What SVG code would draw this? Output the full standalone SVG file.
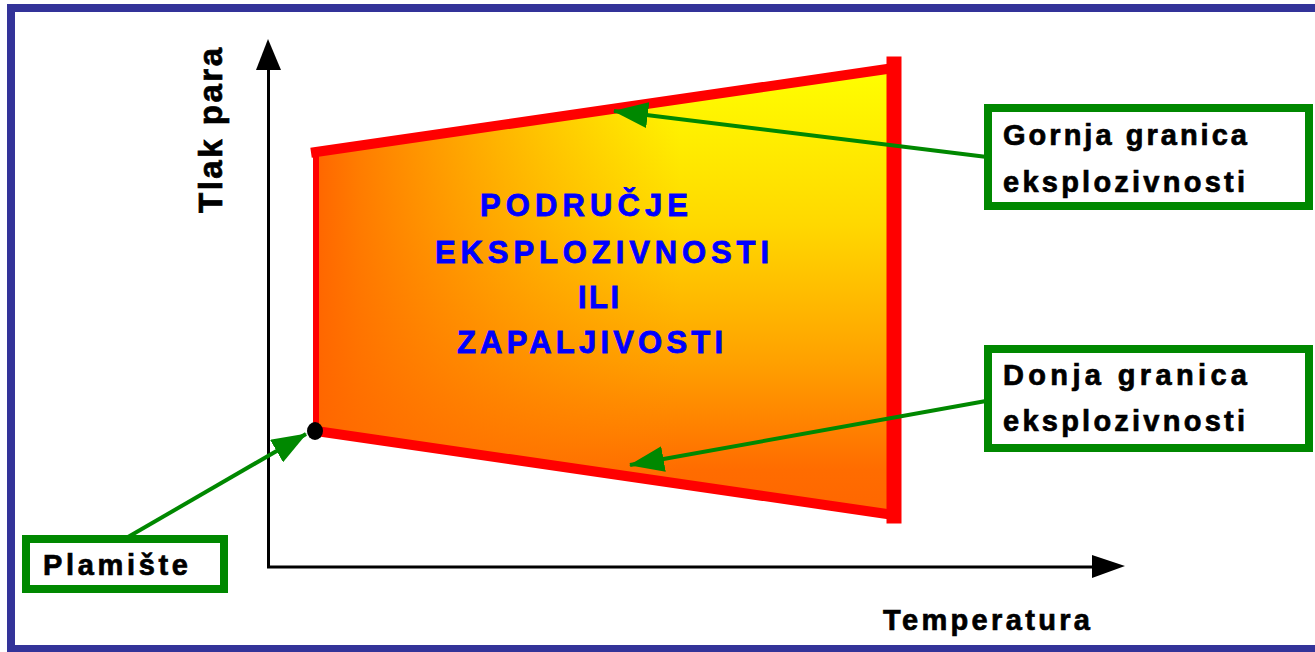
<svg xmlns="http://www.w3.org/2000/svg" width="1315" height="652" viewBox="0 0 1315 652">
<defs>
<style>
.lbl{font-family:"Liberation Sans",Arial,sans-serif;font-weight:bold;font-size:29px;fill:#000;stroke:#000;stroke-width:0.7}
.ctr{font-family:"Liberation Sans",Arial,sans-serif;font-weight:bold;font-size:31px;fill:#0000ff;stroke:#0000ff;stroke-width:0.8}
.box{fill:#fff;stroke:#008800;stroke-width:8}
.conn{stroke:#008800;stroke-width:4;fill:none;marker-end:url(#ga)}
.axis{stroke:#000;stroke-width:3;fill:none}
.edge{stroke:#ff0000;fill:none;stroke-linecap:square}
</style>
<marker id="ga" markerUnits="userSpaceOnUse" markerWidth="36" markerHeight="26" refX="34" refY="13" orient="auto">
<path d="M0,0 L35,13 L0,26 z" fill="#008800"/>
</marker>
<linearGradient id="vg" x1="0" y1="0" x2="0" y2="1">
<stop offset="0" stop-color="#ffff00"/>
<stop offset="0.35" stop-color="#ffd800"/>
<stop offset="0.65" stop-color="#ffa200"/>
<stop offset="0.9" stop-color="#ff6c00"/>
<stop offset="1" stop-color="#ff6600"/>
</linearGradient>
<linearGradient id="hg" gradientUnits="userSpaceOnUse" x1="316" y1="0" x2="680" y2="0">
<stop offset="0" stop-color="#ff6600" stop-opacity="1"/>
<stop offset="0.12" stop-color="#ff6a00" stop-opacity="0.85"/>
<stop offset="1" stop-color="#ff8800" stop-opacity="0"/>
</linearGradient>
</defs>
<rect x="0" y="0" width="1315" height="652" fill="#fff"/>
<rect id="frame" x="11" y="8" width="1315" height="641" fill="none" stroke="#333399" stroke-width="8"/>

<g id="region">
<polygon points="316,152 894,68 894,515 316,430" fill="url(#vg)"/>
<polygon points="316,152 894,68 894,515 316,430" fill="url(#hg)"/>
<line class="edge" x1="316" y1="152" x2="894" y2="68" stroke-width="10"/>
<line class="edge" x1="316" y1="431" x2="894" y2="515" stroke-width="10"/>
<line class="edge" x1="316" y1="152" x2="316" y2="431" stroke-width="6"/>
<line class="edge" x1="894" y1="64" x2="894" y2="516" stroke-width="15"/>
<text class="ctr" x="480" y="216" textLength="208" lengthAdjust="spacing">PODRUČJE</text>
<text class="ctr" x="435" y="263" textLength="334" lengthAdjust="spacing">EKSPLOZIVNOSTI</text>
<text class="ctr" x="578" y="308" textLength="41" lengthAdjust="spacing">ILI</text>
<text class="ctr" x="457" y="353" textLength="266" lengthAdjust="spacing">ZAPALJIVOSTI</text>
</g>

<g id="axes">
<line class="axis" x1="268.5" y1="68" x2="268.5" y2="568"/>
<polygon points="268,39 256,70 281,70" fill="#000"/>
<line class="axis" x1="267" y1="567" x2="1094" y2="567"/>
<polygon points="1125,566 1092,555 1092,578" fill="#000"/>
<text class="lbl" x="883" y="630" textLength="207" lengthAdjust="spacing">Temperatura</text>
<text class="lbl" transform="translate(222,213) rotate(-90)" textLength="165" lengthAdjust="spacing" style="font-size:33px">Tlak para</text>
</g>

<g id="flash-point">
<ellipse cx="315" cy="431" rx="8" ry="9" fill="#000"/>
</g>

<g id="connectors">
<line class="conn" x1="987" y1="157" x2="614" y2="111"/>
<line class="conn" x1="986" y1="401" x2="630" y2="465"/>
<line class="conn" x1="128" y1="537" x2="306" y2="434"/>
</g>

<g id="upper-limit">
<rect class="box" x="988" y="108" width="321" height="98"/>
<text class="lbl" x="1003" y="145" textLength="244" lengthAdjust="spacing">Gornja granica</text>
<text class="lbl" x="1003" y="192" textLength="242" lengthAdjust="spacing">eksplozivnosti</text>
</g>

<g id="lower-limit">
<rect class="box" x="988" y="349" width="321" height="99"/>
<text class="lbl" x="1003" y="385" textLength="244" lengthAdjust="spacing">Donja granica</text>
<text class="lbl" x="1003" y="431" textLength="242" lengthAdjust="spacing">eksplozivnosti</text>
</g>

<g id="flash-label">
<rect class="box" x="26" y="539" width="198" height="50"/>
<text class="lbl" x="43" y="575" textLength="145" lengthAdjust="spacing">Plamište</text>
</g>
</svg>
